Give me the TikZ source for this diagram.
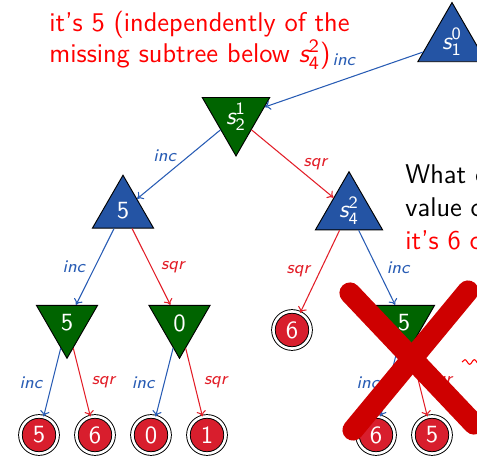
\documentclass[tikz,border=0pt]{standalone}
\usepackage{amsmath}
\usetikzlibrary{shapes.geometric,decorations.pathmorphing,arrows.meta}
\renewcommand{\familydefault}{\sfdefault}

\definecolor{maxblue}{RGB}{36,84,164}
\definecolor{mingreen}{RGB}{0,100,0}
\definecolor{leafred}{RGB}{216,30,45}
\definecolor{incblue}{RGB}{40,92,180}
\definecolor{sqrred}{RGB}{226,30,40}
\definecolor{crossred}{RGB}{206,0,0}

% state names like s_1^0
\newcommand{\st}[2]{$\textit{s}^{\textsf{#2}}_{\textsf{#1}}$}

\begin{document}
\begin{tikzpicture}[x=.425pt,y=.425pt,yscale=-1,
	maxnode/.style={regular polygon,regular polygon sides=3,draw=black,line width=.4pt,fill=maxblue,text=white,inner sep=0pt,minimum size=30pt,font=\fontsize{10.5}{11}\selectfont},
	minnode/.style={maxnode,shape border rotate=180,fill=mingreen},
	leafnode/.style={circle,draw=black,double=white,double distance=1.1pt,line width=.4pt,fill=leafred,text=white,inner sep=0pt,minimum size=15.8pt,font=\fontsize{10.5}{11}\selectfont},
	incedge/.style={-{To[length=2.4pt,width=4pt]},draw=incblue,line width=.45pt},
	sqredge/.style={-{To[length=2.4pt,width=4pt]},draw=sqrred,line width=.45pt},
	inclab/.style={text=incblue,font=\fontsize{7.5}{8}\selectfont\itshape,inner sep=3pt},
	sqrlab/.style={text=sqrred,font=\fontsize{7.5}{8}\selectfont\itshape,inner sep=3pt},
	note/.style={anchor=base west,inner sep=0pt,font=\fontsize{11.5}{13.6}\selectfont}]
	\useasboundingbox (0,0) rectangle (477,457);
	\clip (0,0) rectangle (477,457);

	% Text Node
	\node[note,text=red] (txtleft) at (49,32) {it's 5 (independently of the};
	\node[note,text=red] (txtleftb) at (49,63) {missing subtree below \st{4}{2})};
	% Text Node
	\node[note] (txtright) at (405,184) {What could};
	\node[note] (txtrightb) at (405,217) {value of};
	\node[note,text=red] (txtrightc) at (405,250) {it's 6 c};

	% tree
	\node[maxnode] (s10) at (452,42) {\st{1}{0}};
	\node[minnode] (s21) at (236,117) {\st{2}{1}};
	\node[maxnode] (b5) at (123,210.5) {5};
	\node[maxnode] (s42) at (349,210.5) {\st{4}{2}};
	\node[minnode] (g5) at (67,323) {5};
	\node[minnode] (g0) at (179.5,323) {0};
	\node[leafnode] (r6) at (292,330) {6};
	\node[minnode] (g5r) at (404,323) {5};
	\node[leafnode] (l5) at (39,435) {5};
	\node[leafnode] (l6) at (95,435) {6};
	\node[leafnode] (l0) at (151,435) {0};
	\node[leafnode] (l1) at (207,435) {1};
	\node[leafnode] (l6r) at (376,435) {6};
	\node[leafnode] (l5r) at (432,435) {5};

	\draw[incedge] (s10) -- node[inclab,above=2.5pt] {inc} (s21);
	\draw[incedge] (s21) -- node[inclab,above left,inner sep=1pt] {inc} (b5);
	\draw[sqredge] (s21) -- node[sqrlab,right=1.5pt] {sqr} (s42);
	\draw[incedge] (b5) -- node[inclab,left=1pt] {inc} (g5);
	\draw[sqredge] (b5) -- node[sqrlab,right=1pt] {sqr} (g0);
	\draw[sqredge] (s42) -- node[sqrlab,left=1pt] {sqr} (r6);
	\draw[incedge] (s42) -- node[inclab,right=1pt] {inc} (g5r);
	\draw[incedge] (g5) -- node[inclab,left=1pt] {inc} (l5);
	\draw[sqredge] (g5) -- node[sqrlab,right=1pt] {sqr} (l6);
	\draw[incedge] (g0) -- node[inclab,left=1pt] {inc} (l0);
	\draw[sqredge] (g0) -- node[sqrlab,right=1pt] {sqr} (l1);
	\draw[incedge] (g5r) -- node[inclab,left=1pt] {inc} (l6r);
	\draw[sqredge] (g5r) -- node[sqrlab,right=1pt] {sqr} (l5r);

	% squiggle at the right edge
	\coordinate (sqa) at (462,362);
	\coordinate (sqb) at (490,362);
	\draw[red,line width=.45pt,decorate,decoration={snake,amplitude=1pt,segment length=4pt}] (sqa) -- (sqb);

	% big cross
	\coordinate (xa) at (350,293);
	\coordinate (xb) at (474,424);
	\coordinate (xc) at (468,291);
	\coordinate (xd) at (353,430);
	\draw[crossred,line width=9pt,line cap=round] (xa) -- (xb);
	\draw[crossred,line width=9pt,line cap=round] (xc) -- (xd);
\end{tikzpicture}
\end{document}
